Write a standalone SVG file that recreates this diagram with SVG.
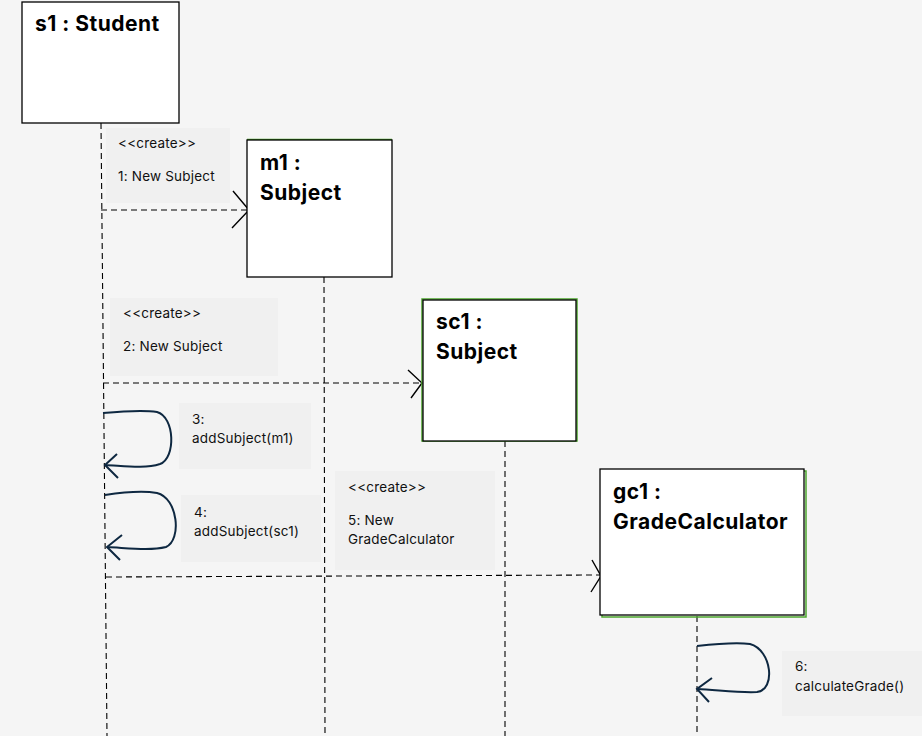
<svg xmlns="http://www.w3.org/2000/svg" width="922" height="736" viewBox="0 0 922 736">
<style>
.bg{fill:#f5f5f5}
.obj{fill:#ffffff;stroke:#000;stroke-width:1.3}
.glow{fill:none;stroke:#4ea72e;stroke-width:1.5}
.lbl{fill:#f0f0f0}
.title{font-family:"Inter","Liberation Sans",sans-serif;font-weight:700;font-size:21px;letter-spacing:0.5px;fill:#000}
.t{font-family:"Inter","Liberation Sans",sans-serif;font-size:13.5px;letter-spacing:0.2px;fill:#111}
.life{stroke:#000;stroke-width:1.1;stroke-dasharray:6 4;fill:none}
.msg{stroke:#000;stroke-width:1.1;stroke-dasharray:6 4;fill:none}
.head{stroke:#000;stroke-width:1.4;fill:none}
.loop{stroke:#0e2841;stroke-width:2;fill:none}
.lhead{stroke:#0e2841;stroke-width:2;fill:none}
</style>
<rect class="bg" x="0" y="0" width="922" height="736"/>

<g id="labels">
<g id="label1"><rect class="lbl" x="106" y="128" width="124" height="75"/>
<text class="t" x="118" y="148" font-size="12">&lt;&lt;create&gt;&gt;</text>
<text class="t" x="118" y="181">1: New Subject</text></g>
<g id="label2"><rect class="lbl" x="110" y="298" width="168" height="78"/>
<text class="t" x="123" y="318" font-size="12">&lt;&lt;create&gt;&gt;</text>
<text class="t" x="123" y="351">2: New Subject</text></g>
<g id="label3"><rect class="lbl" x="179" y="403" width="132" height="66"/>
<text class="t" x="192" y="424">3:</text>
<text class="t" x="192" y="443">addSubject(m1)</text></g>
<g id="label4"><rect class="lbl" x="181" y="495" width="140" height="67"/>
<text class="t" x="194" y="517">4:</text>
<text class="t" x="194" y="536">addSubject(sc1)</text></g>
<g id="label5"><rect class="lbl" x="335" y="471" width="160" height="99"/>
<text class="t" x="348" y="492" font-size="12">&lt;&lt;create&gt;&gt;</text>
<text class="t" x="348" y="525">5: New</text>
<text class="t" x="348" y="544">GradeCalculator</text></g>
<g id="label6"><rect class="lbl" x="782" y="651" width="140" height="65"/>
<text class="t" x="795" y="671">6:</text>
<text class="t" x="795" y="691">calculateGrade()</text></g>
</g>

<g id="connectors">
<line class="life" x1="101" y1="123" x2="107" y2="736"/>
<line class="life" x1="324" y1="277" x2="325" y2="736"/>
<line class="life" x1="505" y1="441" x2="505" y2="736"/>
<line class="life" x1="697" y1="616" x2="697" y2="736"/>

<line class="msg" x1="101" y1="210" x2="248" y2="210"/>
<polyline class="head" points="233,191 249,210 232,228"/>
<line class="msg" x1="103" y1="383" x2="421" y2="383"/>
<polyline class="head" points="408,370 422,383 411,398"/>
<line class="msg" x1="106" y1="577" x2="600" y2="575"/>
<polyline class="head" points="592,560 601,576 591,592"/>

<path class="loop" d="M103,413 C125,411 145,410 157,412 C175,417 176,458 160,464 C145,469 125,466 105,465"/>
<polyline class="lhead" points="117,454 105,465 118,478"/>
<path class="loop" d="M105,495 C125,492 145,491 157,493 C178,498 182,540 166,547 C150,551 128,548 107,547"/>
<polyline class="lhead" points="122,535 107,547 120,560"/>
<path class="loop" d="M697,646 C715,644 735,642 750,644 C772,650 776,690 757,692 C740,693 718,690 697,689"/>
<polyline class="lhead" points="712,678 697,689 709,702"/>
</g>

<g id="s1">
<rect class="obj" x="22" y="2" width="157" height="121"/>
<text class="title" x="35" y="31">s1 : Student</text>
</g>
<g id="m1">
<line class="glow" x1="247" y1="139.5" x2="392" y2="139.5"/>
<rect class="obj" x="247" y="140" width="145" height="137"/>
<text class="title" x="260" y="170">m1 :</text>
<text class="title" x="260" y="200">Subject</text>
</g>
<g id="sc1">
<rect class="glow" x="422" y="299" width="155" height="142"/>
<rect class="obj" x="423" y="300" width="153" height="141"/>
<text class="title" x="436" y="329">sc1 :</text>
<text class="title" x="436" y="359">Subject</text>
</g>
<g id="gc1">
<rect class="glow" x="602" y="471" width="204" height="146"/>
<rect class="obj" x="600" y="469" width="204" height="146"/>
<text class="title" x="613" y="499">gc1 :</text>
<text class="title" x="613" y="529">GradeCalculator</text>
</g>
</svg>
